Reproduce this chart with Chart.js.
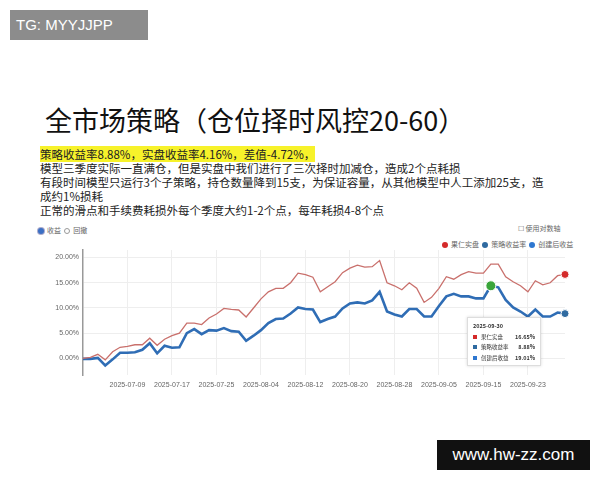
<!DOCTYPE html>
<html><head><meta charset="utf-8">
<script src="https://cdn.jsdelivr.net/npm/chart.js@4"></script>
<style>
body{margin:0;width:600px;height:480px;background:#fff;position:relative;overflow:hidden;font-family:"Noto Sans CJK SC","Noto Sans",sans-serif;}
.abs{position:absolute;white-space:nowrap;}
#tg{left:10px;top:10px;width:138px;height:30px;background:#8c8c8c;color:#fff;font-family:"Liberation Sans",sans-serif;font-size:15px;line-height:30px;padding-left:6px;box-sizing:border-box;}
#title{left:45px;top:100px;font-size:27px;color:#111;}
.p{left:40px;font-size:11.5px;color:#222;line-height:14px;}
.hl{background:#f7f22a;}
#wm{left:437px;top:440px;width:153px;height:30px;background:#111;color:#fff;font-family:"Liberation Sans",sans-serif;font-size:17px;line-height:30px;text-align:center;}
.sm{font-size:7px;color:#666;}
.dot{display:inline-block;width:6px;height:6px;border-radius:50%;margin-right:3px;vertical-align:middle;}
#tip{left:467px;top:317px;width:74px;height:49px;background:#fff;border:1px solid #ddd;box-shadow:0 0 3px rgba(0,0,0,.15);font-size:5.5px;color:#333;padding:3px 5px;box-sizing:border-box;line-height:10.5px;}
#tip .sq{display:inline-block;width:4px;height:4px;margin-right:4px;}
#tip b{float:right;}
</style></head><body>
<div id="tg" class="abs">TG: MYYJJPP</div>
<div id="title" class="abs">全市场策略（仓位择时风控20-60）</div>
<div class="abs p" style="top:147px"><span class="hl">策略收益率8.88%，实盘收益率4.16%，差值-4.72%，</span></div>
<div class="abs p" style="top:161px">模型三季度实际一直满仓，但是实盘中我们进行了三次择时加减仓，造成2个点耗损</div>
<div class="abs p" style="top:175px">有段时间模型只运行3个子策略，持仓数量降到15支，为保证容量，从其他模型中人工添加25支，造</div>
<div class="abs p" style="top:189px">成约1%损耗</div>
<div class="abs p" style="top:203px">正常的滑点和手续费耗损外每个季度大约1-2个点，每年耗损4-8个点</div>
<div class="abs sm" style="left:38px;top:225px"><span class="dot" style="background:#3b6fc4;box-shadow:0 0 0 1px #aac"></span>收益 &nbsp;<span class="dot" style="border:1px solid #999;width:4px;height:4px"></span>回撤</div>
<div class="abs sm" style="left:518px;top:223px">☐ 使用对数轴</div>
<div class="abs sm" style="left:442px;top:239px"><span class="dot" style="background:#d42a2a"></span>果仁实盘 &nbsp;<span class="dot" style="background:#2f6aa0"></span>策略收益率 &nbsp;<span class="dot" style="background:#2f77d0"></span>创建后收益</div>
<div style="position:absolute;left:30px;top:240px;width:545px;height:160px"><canvas id="c"></canvas></div>
<div id="tip" class="abs"><div style="font-weight:bold">2025-09-30</div>
<div><span class="sq" style="background:#d42a2a"></span>果仁实盘<b>16.65%</b></div>
<div><span class="sq" style="background:#2f6aa0"></span>策略收益率<b>8.88%</b></div>
<div><span class="sq" style="background:#2f77d0"></span>创建后收益<b>19.01%</b></div></div>
<div id="wm" class="abs">www.hw-zz.com</div>
<script>
const labels=["2025-07-01","2025-07-02","2025-07-03","2025-07-04","2025-07-07","2025-07-08","2025-07-09","2025-07-10","2025-07-11","2025-07-14","2025-07-15","2025-07-16","2025-07-17","2025-07-18","2025-07-21","2025-07-22","2025-07-23","2025-07-24","2025-07-25","2025-07-28","2025-07-29","2025-07-30","2025-07-31","2025-08-01","2025-08-04","2025-08-05","2025-08-06","2025-08-07","2025-08-08","2025-08-11","2025-08-12","2025-08-13","2025-08-14","2025-08-15","2025-08-18","2025-08-19","2025-08-20","2025-08-21","2025-08-22","2025-08-25","2025-08-26","2025-08-27","2025-08-28","2025-08-29","2025-09-01","2025-09-02","2025-09-03","2025-09-04","2025-09-05","2025-09-08","2025-09-09","2025-09-10","2025-09-11","2025-09-12","2025-09-15","2025-09-16","2025-09-17","2025-09-18","2025-09-19","2025-09-22","2025-09-23","2025-09-24","2025-09-25","2025-09-26","2025-09-29","2025-09-30"];
const tickLabels=["2025-07-09","2025-07-17","2025-07-25","2025-08-04","2025-08-12","2025-08-20","2025-08-28","2025-09-05","2025-09-15","2025-09-23"];
const yTicks=[0,5,10,15,20];
const realValues=[0,0.2,0.8,-0.3,1.3,2.2,2.4,2.7,2.7,4.0,2.6,3.8,4.5,5.0,7.0,7.0,6.7,8.0,8.8,9.9,9.7,9.6,8.2,10.0,11.8,13.2,13.9,13.9,15.0,16.9,16.6,16.1,13.2,14.2,15.2,17.0,17.9,18.5,18.1,18.2,19.4,15.0,14.4,13.6,15.0,13.9,11.1,12.1,13.9,16.2,15.7,16.6,17.2,16.9,16.9,18.7,18.7,16.2,15.2,14.4,13.2,15.4,14.6,15.0,16.4,16.65];
const strategyValues=[-0.1,-0.1,0.1,-1.4,-0.2,1.1,1.1,1.2,1.7,3.0,1.0,2.5,2.1,2.2,5.0,5.8,4.8,5.6,5.5,6.0,5.4,5.3,3.5,4.5,5.6,7.0,7.8,7.9,8.9,10.1,9.8,9.7,7.2,7.8,8.3,9.9,10.9,11.1,10.9,11.5,13.2,9.3,8.7,8.3,9.8,9.8,8.3,8.3,10.4,12.3,12.8,12.3,12.3,11.9,11.9,14.4,14.1,11.6,10.1,9.3,8.3,9.7,8.3,8.3,9.1,8.88];
const n=labels.length;
const redR=labels.map((_,i)=>i===n-1?4:0);
const blueR=labels.map((_,i)=>i===n-1?4:(i===55?5:0));
const blueC=labels.map((_,i)=>i===55?'#3aa53a':'#2f6aa0');
new Chart(document.getElementById('c'),{type:'line',
data:{labels,datasets:[
{data:realValues,borderColor:'#c9706c',borderWidth:1.3,pointRadius:redR,pointBackgroundColor:'#d42a2a',pointBorderColor:'#fff',pointBorderWidth:1,tension:0},
{data:strategyValues,borderColor:'#2f6db5',borderWidth:2.6,pointRadius:blueR,pointBackgroundColor:blueC,pointBorderColor:'#fff',pointBorderWidth:1,tension:0}]},
options:{responsive:true,maintainAspectRatio:false,animation:false,events:[],
layout:{padding:{top:10,right:10,left:0,bottom:0}},
plugins:{legend:{display:false},tooltip:{enabled:false}},
scales:{
x:{offset:false,grid:{color:'#eee',drawTicks:false,lineWidth:(c)=>tickLabels.includes(labels[c.index])?1:0},border:{display:false},
 afterFit(s){s.height=25;},
 ticks:{autoSkip:false,maxRotation:0,padding:6,color:'#666',font:{size:7},callback:(v,i)=>tickLabels.includes(labels[i])?labels[i]:''}},
y:{min:-3.3,max:21.5,afterFit(s){s.width=53;},afterBuildTicks(s){s.ticks=yTicks.map(v=>({value:v}));},
 grid:{color:'#eee',drawTicks:false},border:{color:'#999',width:1.5},
 ticks:{padding:4,color:'#666',font:{size:7},callback:v=>v.toFixed(2)+'%'}}}}});
</script></body></html>
